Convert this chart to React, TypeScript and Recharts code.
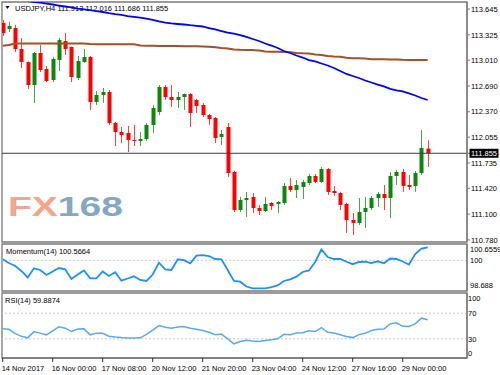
import React from 'react';
import { ComposedChart, Bar, Line, XAxis, YAxis, ReferenceLine, ReferenceArea } from 'recharts';

// ---- data (H4 candles, index 0..68) ----
const opens = [113.471,113.397,113.409,113.149,112.987,112.702,113.099,112.901,112.764,113.012,113.248,113.174,112.789,112.987,113.050,112.491,112.578,112.615,112.231,112.119,112.107,112.020,112.007,112.032,112.206,112.367,112.677,112.553,112.516,112.553,112.590,112.516,112.454,112.330,112.293,112.057,112.181,111.623,111.151,111.275,111.312,111.176,111.139,111.238,111.226,111.238,111.449,111.399,111.437,111.486,111.573,111.499,111.660,111.387,111.362,111.226,111.027,110.990,111.126,111.176,111.300,111.350,111.300,111.573,111.623,111.461,111.449,111.610,111.913];
const highs = [113.509,113.484,113.447,113.285,112.995,113.112,113.198,112.938,113.050,113.285,113.347,113.180,113.062,113.149,113.062,112.628,112.665,112.640,112.243,112.181,112.194,112.206,112.119,112.231,112.454,112.702,112.702,112.702,112.615,112.595,112.603,112.528,112.479,112.342,112.305,112.144,112.231,111.635,111.312,111.375,111.362,111.214,111.312,111.251,111.263,111.486,111.548,111.523,111.523,111.598,111.598,111.685,111.672,111.449,111.375,111.238,111.114,111.300,111.312,111.325,111.375,111.461,111.623,111.647,111.660,111.585,111.635,112.144,112.016];
const lows = [113.310,113.360,113.112,112.913,112.652,112.479,112.863,112.739,112.739,112.876,113.074,112.739,112.764,112.975,112.392,112.454,112.479,112.206,111.945,111.982,111.871,111.945,111.945,112.007,112.107,112.330,112.516,112.429,112.417,112.392,112.181,112.355,112.305,112.206,111.982,111.958,111.561,111.126,111.126,111.064,111.114,111.089,111.126,111.151,111.114,111.214,111.375,111.300,111.288,111.461,111.486,111.486,111.337,111.325,111.151,110.866,110.841,110.965,110.928,111.151,111.189,111.151,111.052,111.461,111.375,111.399,111.375,111.585,111.686];
const closes = [113.347,113.434,113.149,112.987,112.702,113.099,112.888,112.752,113.025,113.260,113.149,112.801,113.000,113.050,112.491,112.578,112.615,112.231,112.119,112.082,112.020,112.007,112.032,112.206,112.417,112.677,112.553,112.516,112.553,112.590,112.355,112.441,112.330,112.280,112.045,112.094,111.610,111.151,111.275,111.300,111.176,111.139,111.226,111.201,111.251,111.449,111.399,111.461,111.499,111.573,111.499,111.660,111.375,111.362,111.214,111.027,110.990,111.126,111.176,111.300,111.350,111.300,111.573,111.623,111.449,111.437,111.610,111.920,111.855];
const maFast = [113.782,113.775,113.763,113.751,113.742,113.732,113.723,113.713,113.701,113.688,113.676,113.664,113.651,113.641,113.630,113.618,113.608,113.593,113.581,113.571,113.558,113.548,113.538,113.526,113.509,113.492,113.477,113.466,113.459,113.453,113.444,113.437,113.428,113.409,113.391,113.372,113.353,113.341,113.322,113.298,113.273,113.248,113.217,113.192,113.161,113.124,113.099,113.068,113.043,113.012,112.994,112.969,112.944,112.913,112.876,112.839,112.814,112.789,112.758,112.733,112.708,112.684,112.653,112.634,112.622,112.597,112.572,112.541,112.516];
const maSlow = [113.190,113.198,113.217,113.217,113.217,113.217,113.217,113.217,113.217,113.217,113.217,113.217,113.217,113.217,113.211,113.207,113.207,113.207,113.207,113.207,113.207,113.207,113.192,113.190,113.188,113.186,113.186,113.185,113.185,113.184,113.184,113.183,113.180,113.176,113.170,113.161,113.155,113.143,113.138,113.136,113.136,113.130,113.118,113.115,113.115,113.113,113.110,113.100,113.095,113.092,113.080,113.074,113.062,113.055,113.053,113.040,113.033,113.033,113.030,113.023,113.021,113.021,113.020,113.018,113.014,113.012,113.012,113.012,113.012];
const momentum = [100.044,99.882,99.752,99.534,99.251,99.651,99.577,99.359,99.512,99.664,99.608,99.185,99.381,99.556,99.216,99.216,99.512,99.316,99.477,99.111,99.207,99.303,99.142,99.098,99.381,99.895,99.608,99.577,100.044,100.004,99.869,100.200,100.222,100.187,100.057,100.044,99.577,99.098,99.068,98.858,98.780,98.780,98.780,98.828,98.902,99.098,99.172,99.285,99.490,99.556,99.926,100.471,100.144,100.057,100.057,99.935,99.830,99.926,99.939,99.874,99.956,99.869,100.078,100.057,99.948,99.817,100.275,100.514,100.566];
const rsi = [45.56,44.79,38.09,33.89,31.56,41.21,38.87,36.23,42.45,48.68,46.65,41.36,45.25,45.56,36.23,38.87,38.56,34.05,32.80,31.87,31.25,31.09,31.56,37.00,43.54,50.70,48.21,46.65,48.37,49.14,46.65,44.79,42.92,40.12,36.23,37.32,30.00,22.22,25.80,27.82,26.58,25.80,27.20,28.44,30.00,37.00,36.23,39.03,39.65,42.45,41.36,47.43,40.12,39.03,36.23,33.58,31.87,36.54,38.56,42.92,45.10,45.25,53.35,54.90,49.46,49.14,53.35,62.22,59.89];

const priceTicks = [113.645, 113.325, 113.010, 112.690, 112.370, 112.055, 111.855, 111.735, 111.420, 111.100, 110.780];
const lastPrice = 111.855;
const momTicks = [100.6559, 100, 98.688];
const momTickLabels = ['100.6559', '100', '98.688'];
const rsiTicks = [100, 70, 30, 0];
const dateTickIdx = [0, 8, 16, 24, 32, 40, 48, 56, 64];
const dateLabels = ['14 Nov 2017', '16 Nov 00:00', '17 Nov 08:00', '20 Nov 12:00', '21 Nov 20:00', '23 Nov 04:00', '24 Nov 12:00', '27 Nov 16:00', '29 Nov 00:00'];
const headerText = 'USDJPY,H4  111.913 112.016 111.686 111.855';
const momLabel = 'Momentum(14) 100.5664';
const rsiLabel = 'RSI(14) 59.8874';

const data = opens.map((o, i) => ({
  i,
  o,
  h: highs[i],
  l: lows[i],
  c: closes[i],
  range: [lows[i], highs[i]],
  maFast: maFast[i],
  maSlow: maSlow[i],
  mom: momentum[i],
  rsi: rsi[i],
}));

const X_DOMAIN: [number, number] = [-0.112, 74.29];
const P_DOMAIN: [number, number] = [110.754, 113.732];
const M_DOMAIN: [number, number] = [98.662, 100.71];
const R_DOMAIN: [number, number] = [0, 101.6];

const FONT = "'Liberation Sans', Arial, sans-serif";
const FS = 7.5;
const FRAME = '#7a7a7a';

const Candle = (props: any) => {
  const { x, y, width, height, payload } = props;
  if (height == null || payload == null) return null;
  const { o, h, l, c } = payload;
  const cx = Math.round(x + width / 2);
  const ratio = h === l ? 0 : height / (h - l);
  const yO = y + (h - o) * ratio;
  const yC = y + (h - c) * ratio;
  const up = c >= o;
  const color = up ? '#0c870c' : '#ff0000';
  const top = Math.min(yO, yC);
  const bh = Math.max(1, Math.abs(yC - yO));
  return (
    <g>
      <line x1={cx + 0.5} x2={cx + 0.5} y1={y} y2={y + height} stroke={color} strokeWidth={1} strokeOpacity={0.75} />
      <rect x={cx - 1.5} y={top} width={4} height={bh} fill={color} />
    </g>
  );
};

const PriceTick = (props: any) => {
  const { x, y, payload } = props;
  const v = payload.value as number;
  const isLast = Math.abs(v - lastPrice) < 1e-6;
  return (
    <g>
      {isLast && <rect x={x - 1.5} y={y - 4.5} width={29} height={9} fill="#000" />}
      <text x={x} y={y} dy={2.7} fill={isLast ? '#fff' : '#000'} fontSize={FS} fontFamily={FONT} textAnchor="start">
        {v.toFixed(3)}
      </text>
    </g>
  );
};

const MomTick = (props: any) => {
  const { x, y, payload, index } = props;
  const k = momTicks.indexOf(payload.value);
  const dy = index === 0 || k === 0 ? 4 : k === momTicks.length - 1 ? -4.7 : 0;
  return (
    <text x={x} y={y + dy} dy={2.7} fill="#000" fontSize={FS} fontFamily={FONT} textAnchor="start">
      {k >= 0 ? momTickLabels[k] : String(payload.value)}
    </text>
  );
};

const RsiTick = (props: any) => {
  const { x, y, payload } = props;
  const k = rsiTicks.indexOf(payload.value);
  const dy = k === 0 ? 4.3 : k === rsiTicks.length - 1 ? -4.7 : 0;
  return (
    <text x={x} y={y + dy} dy={2.7} fill="#000" fontSize={FS} fontFamily={FONT} textAnchor="start">
      {String(payload.value)}
    </text>
  );
};

const DateTick = (props: any) => {
  const { x, y, payload } = props;
  const k = dateTickIdx.indexOf(payload.value);
  return (
    <text x={x - 1} y={y + 7} fill="#000" fontSize={FS} fontFamily={FONT} textAnchor="start">
      {k >= 0 ? dateLabels[k] : ''}
    </text>
  );
};

export default function App() {
  return (
    <div style={{ position: 'absolute', left: 0, top: 0, width: 500, height: 375, background: '#fff', overflow: 'hidden' }}>
      <svg width={500} height={375} style={{ position: 'absolute', left: 0, top: 0 }}>
        <path d="M5.5 6 L9.5 6 L7.5 9 Z" fill="#000" />
        <text x={15} y={10.5} fontSize={FS} fontFamily={FONT} fill="#000">{headerText}</text>
        <text x={8} y={216} fontSize={28} fontWeight="bold" fontFamily={FONT} textLength={115} lengthAdjust="spacingAndGlyphs">
          <tspan fill="#f3a68a">FX</tspan>
          <tspan fill="#85a8c2">168</tspan>
        </text>
        <text x={6} y={254} fontSize={FS} fontFamily={FONT} fill="#000">{momLabel}</text>
        <text x={5} y={302.5} fontSize={FS} fontFamily={FONT} fill="#000">{rsiLabel}</text>
      </svg>

      <div style={{ position: 'absolute', left: 0, top: 0 }}>
        <ComposedChart width={500} height={244} data={data} margin={{ top: 2, right: 0, bottom: 2, left: 2 }}>
          <XAxis type="number" dataKey="i" domain={X_DOMAIN} allowDataOverflow hide />
          <YAxis
            orientation="right"
            width={33}
            domain={P_DOMAIN}
            allowDataOverflow
            ticks={priceTicks}
            interval={0}
            tickSize={3}
            tickMargin={1}
            axisLine={{ stroke: FRAME, strokeWidth: 1.3 }}
            tickLine={{ stroke: FRAME }}
            tick={<PriceTick />}
          />
          <ReferenceArea x1={X_DOMAIN[0]} x2={X_DOMAIN[1]} y1={P_DOMAIN[0]} y2={P_DOMAIN[1]} fill="none" stroke={FRAME} strokeWidth={1.3} />
          <ReferenceLine y={lastPrice} stroke="#3c3c3c" strokeWidth={1} />
          <Bar dataKey="range" barSize={4} shape={<Candle />} isAnimationActive={false} />
          <Line dataKey="maSlow" stroke="#a0522d" strokeWidth={2} dot={false} activeDot={false} type="linear" isAnimationActive={false} />
          <Line dataKey="maFast" stroke="#0000ff" strokeWidth={1.8} dot={false} activeDot={false} type="linear" isAnimationActive={false} />
        </ComposedChart>
      </div>

      <div style={{ position: 'absolute', left: 0, top: 243 }}>
        <ComposedChart width={500} height={50} data={data} margin={{ top: 1, right: 0, bottom: 2, left: 2 }}>
          <XAxis type="number" dataKey="i" domain={X_DOMAIN} allowDataOverflow hide />
          <YAxis
            orientation="right"
            width={33}
            domain={M_DOMAIN}
            allowDataOverflow
            ticks={momTicks}
            interval={0}
            tickSize={2}
            tickMargin={1}
            axisLine={{ stroke: FRAME, strokeWidth: 1.3 }}
            tickLine={false}
            tick={<MomTick />}
          />
          <ReferenceArea x1={X_DOMAIN[0]} x2={X_DOMAIN[1]} y1={M_DOMAIN[0]} y2={M_DOMAIN[1]} fill="none" stroke={FRAME} strokeWidth={1.3} />
          <ReferenceLine y={100} stroke="#c8c8c8" strokeDasharray="2 2" />
          <Line dataKey="mom" stroke="#1e90ff" strokeWidth={1.8} dot={false} activeDot={false} type="linear" isAnimationActive={false} />
        </ComposedChart>
      </div>

      <div style={{ position: 'absolute', left: 0, top: 292 }}>
        <ComposedChart width={500} height={83} data={data} margin={{ top: 1, right: 0, bottom: 0, left: 2 }}>
          <XAxis
            type="number"
            dataKey="i"
            domain={X_DOMAIN}
            allowDataOverflow
            ticks={dateTickIdx}
            interval={0}
            height={17}
            tickSize={4}
            axisLine={{ stroke: FRAME, strokeWidth: 1.3 }}
            tickLine={{ stroke: '#333' }}
            tick={<DateTick />}
          />
          <YAxis
            orientation="right"
            width={33}
            domain={R_DOMAIN}
            allowDataOverflow
            ticks={rsiTicks}
            interval={0}
            tickSize={0}
            tickMargin={1}
            axisLine={{ stroke: FRAME, strokeWidth: 1.3 }}
            tickLine={false}
            tick={<RsiTick />}
          />
          <ReferenceArea x1={X_DOMAIN[0]} x2={X_DOMAIN[1]} y1={R_DOMAIN[0]} y2={R_DOMAIN[1]} fill="none" stroke={FRAME} strokeWidth={1.3} />
          <ReferenceLine y={70} stroke="#c8c8c8" strokeDasharray="2 2" />
          <ReferenceLine y={30} stroke="#c8c8c8" strokeDasharray="2 2" />
          <Line dataKey="rsi" stroke="#5aaaf0" strokeWidth={1.5} dot={false} activeDot={false} type="linear" isAnimationActive={false} />
        </ComposedChart>
      </div>
    </div>
  );
}
